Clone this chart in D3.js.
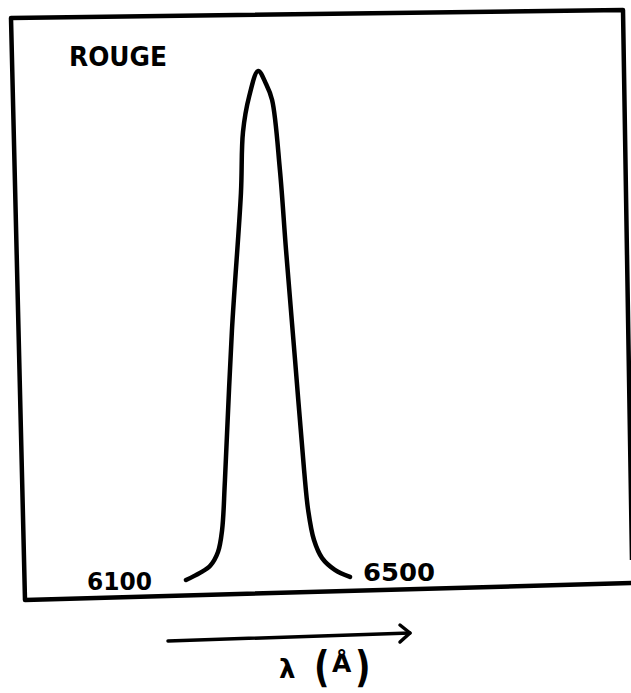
<!DOCTYPE html>
<html><head><meta charset="utf-8">
<script src="https://cdn.jsdelivr.net/npm/d3@7"></script>
<style>html,body{margin:0;padding:0;background:#fff;}svg{display:block;}</style>
</head><body>
<script>
// Data (wavelength in Å, relative intensity)
const wavelength = [6100, 6134, 6159, 6178, 6188, 6195, 6212, 6234, 6239, 6254, 6276, 6295, 6310, 6329, 6344, 6366, 6388, 6398, 6412, 6432, 6463, 6500];
const intensity  = [0.000, 0.014, 0.028, 0.055, 0.098, 0.196, 0.490, 0.760, 0.880, 0.950, 1.000, 0.975, 0.943, 0.806, 0.648, 0.432, 0.216, 0.137, 0.079, 0.043, 0.020, 0.006];
const tickLabels = ["6100", "6500"];
const title = "ROUGE";
const axisLabel = ["λ", "(", "Å", ")"];

const W = 631, H = 693;
const svg = d3.select("body").append("svg").attr("width", W).attr("height", H);

// Frame (hand-drawn, slightly skewed)
svg.append("path")
  .attr("d", "M633,583 L25,600 L11,18 L623,10 L632,560")
  .attr("fill", "none").attr("stroke", "#000").attr("stroke-width", 4.5)
  .attr("stroke-linejoin", "round");

const x = d3.scaleLinear().domain([6100, 6500]).range([186, 350]);
const y = d3.scaleLinear().domain([0, 1]).range([580, 71]);

const pts = wavelength.map((w, i) => [w, intensity[i]]);
svg.append("path")
  .datum(pts)
  .attr("d", d3.line().x(d => x(d[0])).y(d => y(d[1])).curve(d3.curveCatmullRom.alpha(0.5)))
  .attr("fill", "none").attr("stroke", "#000").attr("stroke-width", 4.5)
  .attr("stroke-linejoin", "round").attr("stroke-linecap", "round");

const font = "'DejaVu Sans', sans-serif";

svg.append("text").text(title)
  .attr("x", 69).attr("y", 66)
  .attr("font-family", font).attr("font-weight", "bold").attr("font-size", 26)
  .attr("textLength", 98).attr("lengthAdjust", "spacingAndGlyphs");

// Tick labels at the ends of the curve
svg.append("text").text(tickLabels[0])
  .attr("x", x(6100) - 99).attr("y", 590)
  .attr("font-family", font).attr("font-weight", "bold").attr("font-size", 25)
  .attr("textLength", 65).attr("lengthAdjust", "spacingAndGlyphs");
svg.append("text").text(tickLabels[1])
  .attr("x", x(6500) + 13).attr("y", 581)
  .attr("font-family", font).attr("font-weight", "bold").attr("font-size", 25)
  .attr("textLength", 72).attr("lengthAdjust", "spacingAndGlyphs");

// Arrow
svg.append("path")
  .attr("d", "M168,641 L410,633")
  .attr("stroke", "#000").attr("stroke-width", 3.5).attr("stroke-linecap", "round");
svg.append("path")
  .attr("d", "M400,625 L410,633 L400,642")
  .attr("fill", "none").attr("stroke", "#000").attr("stroke-width", 3.5)
  .attr("stroke-linecap", "round").attr("stroke-linejoin", "round");

// Axis label λ (Å)
svg.append("text").text(axisLabel[0])
  .attr("x", 279).attr("y", 678)
  .attr("font-family", font).attr("font-weight", "bold").attr("font-size", 26);
svg.append("text").text(axisLabel[1])
  .attr("transform", "translate(314,682) scale(1,1.25)")
  .attr("font-family", font).attr("font-weight", "bold").attr("font-size", 34);
svg.append("text").text(axisLabel[2])
  .attr("x", 332).attr("y", 672)
  .attr("font-family", font).attr("font-weight", "bold").attr("font-size", 25);
svg.append("text").text(axisLabel[3])
  .attr("transform", "translate(355,682) scale(1,1.25)")
  .attr("font-family", font).attr("font-weight", "bold").attr("font-size", 34);
</script>
</body></html>
